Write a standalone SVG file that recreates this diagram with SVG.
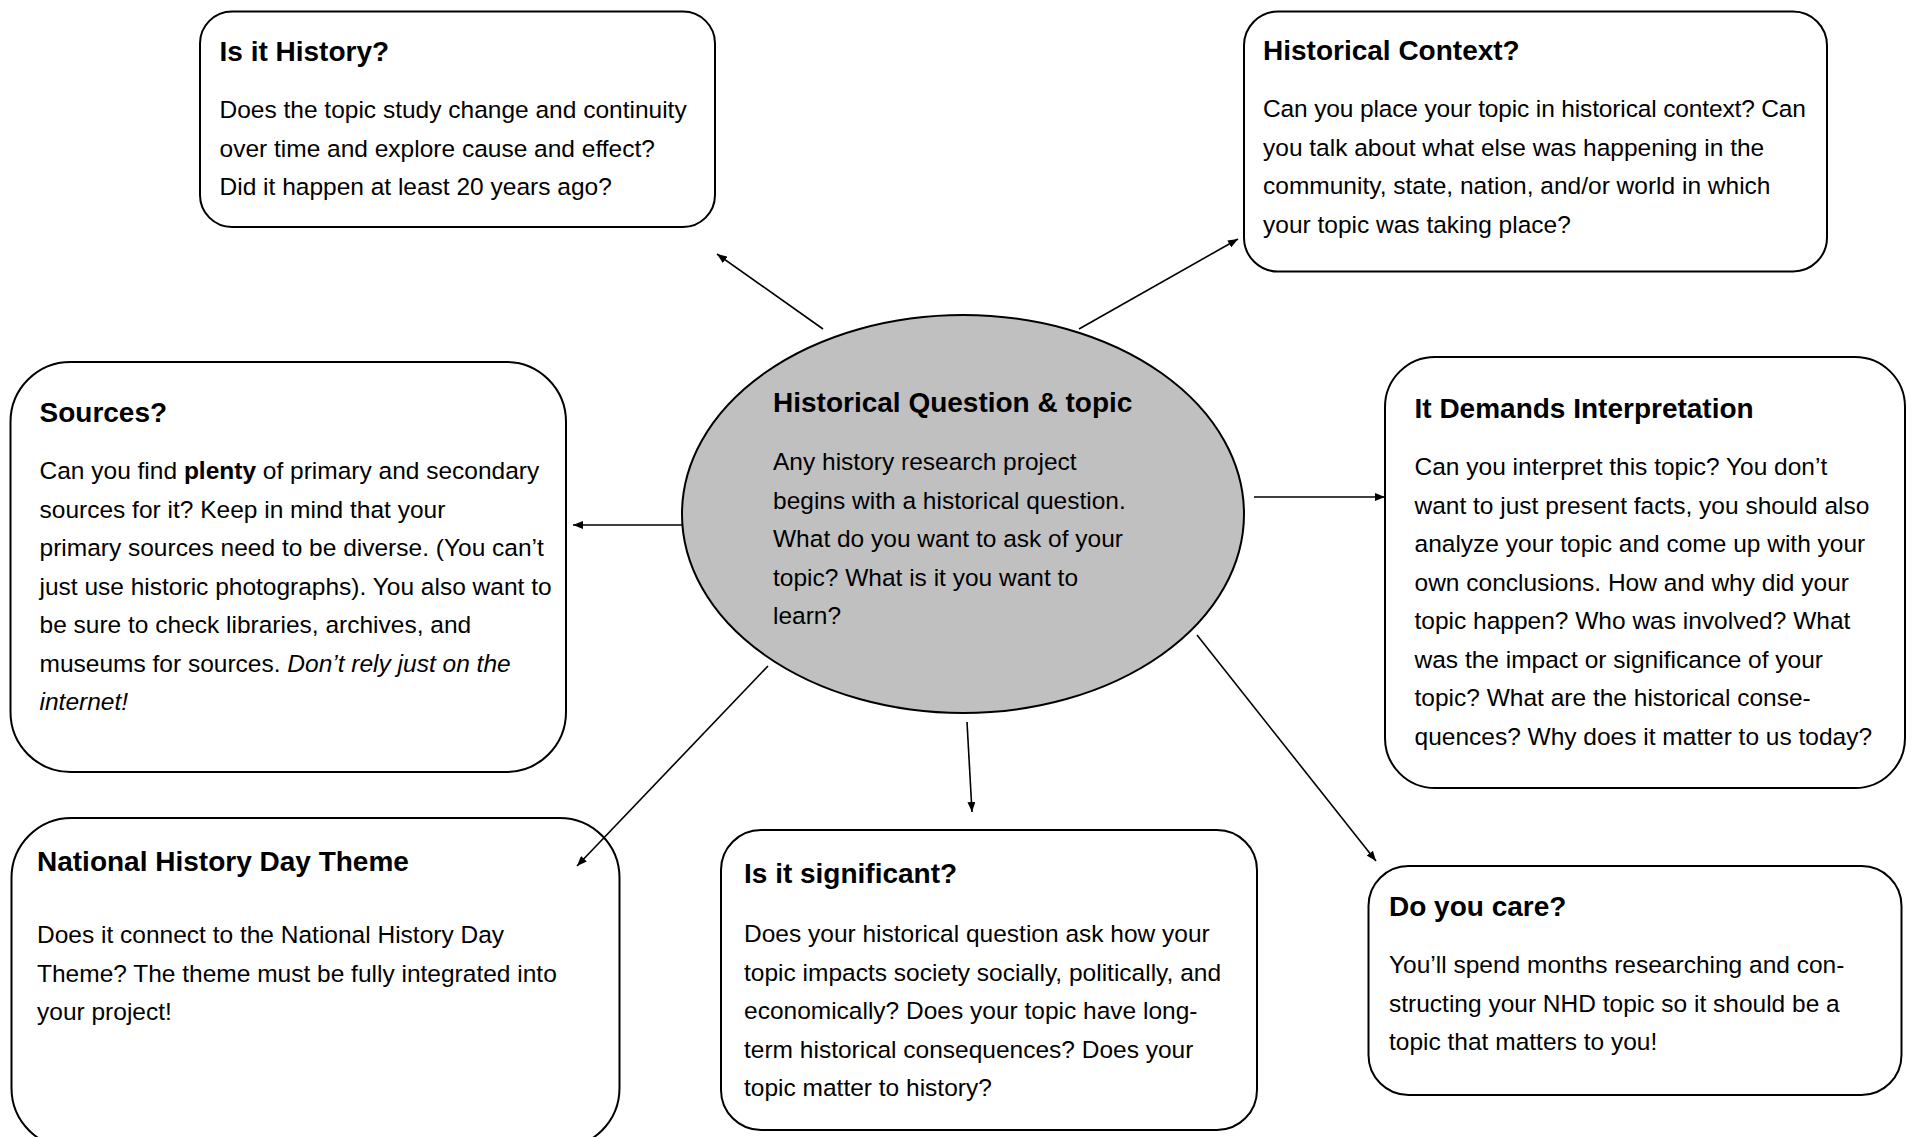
<svg xmlns="http://www.w3.org/2000/svg" width="1912" height="1137" viewBox="0 0 1912 1137">
<style>
.box{fill:#fff;stroke:#000;stroke-width:2}
.ell{fill:#c0c0c0;stroke:#000;stroke-width:2}
.t{font-family:"Liberation Sans",Arial,sans-serif;font-size:28px;font-weight:bold;fill:#000}
.b{font-family:"Liberation Sans",Arial,sans-serif;font-size:24.5px;fill:#000}
.c{stroke:#000;stroke-width:1.6;fill:none;marker-end:url(#ah)}
</style>
<defs>
<marker id="ah" markerUnits="userSpaceOnUse" viewBox="0 0 10 8" markerWidth="10" markerHeight="8" refX="10" refY="4" orient="auto">
<path d="M0,0 L10,4 L0,8 z" fill="#000"/>
</marker>
</defs>
<rect width="1912" height="1137" fill="#fff"/>
<g id="center">
<ellipse class="ell" cx="963" cy="514" rx="281" ry="199"/>
<text class="t" x="773" y="412">Historical Question &amp; topic</text>
<text class="b" x="773" y="470">Any history research project</text>
<text class="b" x="773" y="508.5">begins with a historical question.</text>
<text class="b" x="773" y="547">What do you want to ask of your</text>
<text class="b" x="773" y="585.5">topic? What is it you want to</text>
<text class="b" x="773" y="624">learn?</text>
</g>
<g id="is-it-history">
<rect class="box" x="200" y="11.5" width="515" height="215.5" rx="32"/>
<text class="t" x="219.5" y="61">Is it History?</text>
<text class="b" x="219.5" y="118">Does the topic study change and continuity</text>
<text class="b" x="219.5" y="156.5">over time and explore cause and effect?</text>
<text class="b" x="219.5" y="195">Did it happen at least 20 years ago?</text>
</g>
<g id="historical-context">
<rect class="box" x="1244" y="11.5" width="583" height="260" rx="34"/>
<text class="t" x="1263" y="60">Historical Context?</text>
<text class="b" x="1263" y="117" textLength="543" lengthAdjust="spacing">Can you place your topic in historical context? Can</text>
<text class="b" x="1263" y="155.5">you talk about what else was happening in the</text>
<text class="b" x="1263" y="194">community, state, nation, and/or world in which</text>
<text class="b" x="1263" y="232.5">your topic was taking place?</text>
</g>
<g id="sources">
<rect class="box" x="10.5" y="362" width="555.5" height="410" rx="60"/>
<text class="t" x="39.5" y="422">Sources?</text>
<text class="b" x="39.5" y="479">Can you find <tspan font-weight="bold">plenty</tspan> of primary and secondary</text>
<text class="b" x="39.5" y="517.5">sources for it? Keep in mind that your</text>
<text class="b" x="39.5" y="556">primary sources need to be diverse. (You can’t</text>
<text class="b" x="39.5" y="594.5">just use historic photographs). You also want to</text>
<text class="b" x="39.5" y="633">be sure to check libraries, archives, and</text>
<text class="b" x="39.5" y="671.5">museums for sources. <tspan font-style="italic">Don’t rely just on the</tspan></text>
<text class="b" x="39.5" y="710" font-style="italic">internet!</text>
</g>
<g id="interpretation">
<rect class="box" x="1385" y="357" width="520" height="431" rx="50"/>
<text class="t" x="1414.5" y="418">It Demands Interpretation</text>
<text class="b" x="1414.5" y="475">Can you interpret this topic? You don’t</text>
<text class="b" x="1414.5" y="513.5">want to just present facts, you should also</text>
<text class="b" x="1414.5" y="552">analyze your topic and come up with your</text>
<text class="b" x="1414.5" y="590.5">own conclusions. How and why did your</text>
<text class="b" x="1414.5" y="629">topic happen? Who was involved? What</text>
<text class="b" x="1414.5" y="667.5">was the impact or significance of your</text>
<text class="b" x="1414.5" y="706">topic? What are the historical conse-</text>
<text class="b" x="1414.5" y="744.5">quences? Why does it matter to us today?</text>
</g>
<g id="nhd-theme">
<rect class="box" x="11.5" y="818" width="608" height="330" rx="60"/>
<text class="t" x="37" y="871">National History Day Theme</text>
<text class="b" x="37" y="943">Does it connect to the National History Day</text>
<text class="b" x="37" y="981.5">Theme? The theme must be fully integrated into</text>
<text class="b" x="37" y="1020">your project!</text>
</g>
<g id="significant">
<rect class="box" x="721" y="830" width="536" height="300" rx="40"/>
<text class="t" x="744" y="883">Is it significant?</text>
<text class="b" x="744" y="942">Does your historical question ask how your</text>
<text class="b" x="744" y="980.5">topic impacts society socially, politically, and</text>
<text class="b" x="744" y="1019">economically? Does your topic have long-</text>
<text class="b" x="744" y="1057.5">term historical consequences? Does your</text>
<text class="b" x="744" y="1096">topic matter to history?</text>
</g>
<g id="do-you-care">
<rect class="box" x="1368.5" y="866" width="533" height="229" rx="40"/>
<text class="t" x="1389" y="916">Do you care?</text>
<text class="b" x="1389" y="973">You’ll spend months researching and con-</text>
<text class="b" x="1389" y="1011.5">structing your NHD topic so it should be a</text>
<text class="b" x="1389" y="1050">topic that matters to you!</text>
</g>
<g id="connectors">
<line class="c" x1="823" y1="329" x2="717" y2="254"/>
<line class="c" x1="1079" y1="329" x2="1238" y2="239"/>
<line class="c" x1="683" y1="525" x2="573" y2="525"/>
<line class="c" x1="1254" y1="497" x2="1385" y2="497"/>
<line class="c" x1="768" y1="666" x2="577" y2="866"/>
<line class="c" x1="967" y1="722" x2="972" y2="812"/>
<line class="c" x1="1197" y1="635" x2="1376" y2="861"/>
</g>
</svg>
